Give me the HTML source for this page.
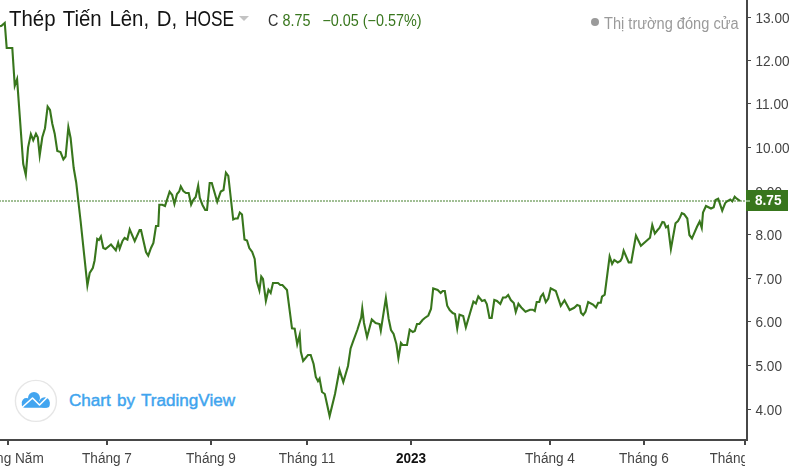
<!DOCTYPE html>
<html><head><meta charset="utf-8">
<style>
html,body{margin:0;padding:0;background:#fff;}
body{width:792px;height:467px;position:relative;overflow:hidden;font-family:"Liberation Sans",sans-serif;}
#chart{position:absolute;left:0;top:0;}
.title{position:absolute;left:9px;top:6px;font-size:20.4px;word-spacing:2px;transform-origin:0 0;transform:scaleY(1.1);color:#131313;white-space:nowrap;letter-spacing:0px;}
.tri{position:absolute;left:239px;top:16px;width:0;height:0;border-left:5px solid transparent;border-right:5px solid transparent;border-top:5px solid #c3c3c3;}
.ohlc{position:absolute;left:268px;top:11.5px;font-size:14.4px;transform-origin:0 0;transform:scaleY(1.1);white-space:nowrap;color:#38761d;}
.ohlc .c{color:#333;}
.mkt{position:absolute;left:604px;top:14.5px;font-size:14.6px;transform-origin:0 0;transform:scaleY(1.08);color:#9a9a9a;white-space:nowrap;}
.dot{position:absolute;left:591px;top:18px;width:8px;height:8px;border-radius:50%;background:#9a9a9a;}
.yaxis{position:absolute;left:746px;top:0;width:2px;height:441px;background:#474747;}
.xaxis{position:absolute;left:0;top:439px;width:748px;height:2px;background:#474747;}
.yl{position:absolute;left:755.5px;font-size:13.6px;transform-origin:0 50%;transform:scaleY(1.1);line-height:16px;color:#444;white-space:nowrap;}
.ytick{position:absolute;left:748px;width:3px;height:1px;background:#474747;}
.xl{position:absolute;top:449.5px;width:120px;text-align:center;font-size:13.6px;line-height:16px;color:#444;transform-origin:50% 0;transform:scaleY(1.1);white-space:nowrap;}
.xl.b{font-weight:bold;color:#111;}
.xtick{position:absolute;top:441px;width:1.5px;height:3.5px;background:#474747;}
.xlast{position:absolute;top:449.5px;left:709.5px;width:35.5px;overflow:hidden;font-size:13.6px;line-height:16px;color:#444;transform-origin:0 0;transform:scaleY(1.1);white-space:nowrap;}
.plabel{position:absolute;left:746px;top:190px;width:41.5px;height:21px;background:#38761d;}
.ptxt{position:absolute;left:755px;top:192px;width:28px;font-size:13.6px;font-weight:bold;line-height:18px;color:#fff;white-space:nowrap;transform-origin:0 50%;transform:scaleY(1.1);}
.ptick{position:absolute;left:746px;top:200px;width:4px;height:2px;background:#8dba7e;}
.tv{position:absolute;left:69px;top:390.7px;font-size:17.1px;word-spacing:1.5px;color:#40a4ee;-webkit-text-stroke:0.45px #40a4ee;white-space:nowrap;}
</style></head><body>
<svg id="chart" width="792" height="467" viewBox="0 0 792 467">
<defs><filter id="bl" x="-5%" y="-5%" width="110%" height="110%"><feGaussianBlur stdDeviation="0.35"/></filter></defs>
<line x1="0" y1="201" x2="746" y2="201" stroke="#38761d" stroke-opacity="0.47" stroke-width="2" stroke-dasharray="2 1" stroke-dashoffset="1"/>
<polyline points="0.00,26.30 1.50,25.80 4.75,22.89 6.70,48.00 12.30,48.00 14.76,85.74 17.08,79.08 23.20,163.80 25.79,174.93 28.10,147.40 30.87,134.21 33.23,140.19 35.95,133.76 37.80,137.30 39.69,155.43 42.30,137.30 45.00,128.20 47.63,106.59 50.00,110.00 52.30,123.70 54.70,133.70 57.30,151.00 60.50,152.00 63.38,159.38 65.60,156.50 68.36,127.13 70.60,138.00 73.70,168.00 76.20,182.50 80.60,221.00 87.39,285.44 89.70,273.00 92.80,268.00 94.60,260.50 97.23,238.78 98.92,239.99 100.88,236.43 103.30,248.00 105.50,249.00 111.00,244.50 115.84,250.32 118.18,242.64 119.68,248.61 122.50,241.00 124.60,238.00 127.40,239.60 129.71,229.38 134.72,241.11 139.60,230.00 141.00,230.00 146.00,252.00 148.23,255.69 151.00,248.00 153.40,243.00 156.00,226.00 158.30,226.00 159.30,204.70 162.30,204.70 165.00,206.00 169.60,191.66 172.20,195.00 174.42,204.05 177.00,194.00 179.20,191.50 180.80,186.48 183.30,191.00 186.00,193.00 188.70,193.00 191.13,204.58 193.20,200.00 195.70,197.00 198.17,185.66 199.80,198.00 202.50,205.00 205.20,210.00 207.00,210.00 209.70,183.00 211.80,183.00 217.23,201.71 220.80,191.50 223.50,190.00 225.92,172.71 228.30,176.00 233.20,219.50 235.20,218.50 237.70,218.50 239.81,212.49 242.00,214.50 244.50,239.50 247.00,240.50 249.30,248.00 252.20,252.00 254.70,259.00 256.70,281.00 259.39,290.34 261.26,276.60 263.00,279.00 265.88,300.81 268.46,289.72 270.67,292.88 273.00,283.00 278.00,283.00 280.30,285.00 282.40,285.00 287.00,290.00 292.00,328.40 294.70,328.80 297.24,344.20 299.72,334.85 300.80,351.50 303.15,360.92 308.00,355.00 310.70,355.00 313.60,364.00 315.80,377.00 317.96,381.12 319.56,378.60 322.00,392.00 324.80,394.00 329.62,416.09 335.00,394.00 339.48,369.94 343.31,382.10 348.00,366.00 350.60,348.40 353.00,341.70 357.30,330.00 361.20,317.60 362.26,308.51 364.00,323.00 367.05,337.14 371.80,319.50 375.60,323.00 379.50,324.00 380.80,330.61 385.87,298.17 388.60,318.50 391.00,330.00 393.60,334.00 396.30,343.60 398.40,358.11 400.92,342.98 402.60,345.00 407.00,345.00 409.70,329.70 412.80,332.00 414.80,331.00 417.00,324.00 419.40,324.00 422.50,320.00 424.80,318.00 428.30,315.50 431.00,309.00 433.20,288.50 437.70,290.00 440.70,293.00 442.70,291.00 444.80,291.00 447.20,305.70 449.70,310.00 452.70,313.00 455.00,314.00 457.22,328.55 459.50,314.70 463.20,316.00 465.85,327.30 473.43,301.53 475.87,303.46 478.32,296.36 482.00,301.00 484.70,300.00 486.80,304.00 489.50,318.00 491.70,318.00 494.30,300.00 497.00,301.00 500.30,304.00 503.00,297.50 505.70,297.50 508.20,295.00 510.80,300.00 513.80,303.00 515.76,312.00 518.43,303.74 521.30,307.50 525.50,311.70 530.00,309.70 532.70,309.70 534.80,311.00 536.70,302.00 539.30,302.00 540.80,296.70 543.08,293.74 545.82,302.17 548.30,298.50 550.70,288.30 555.80,291.00 560.78,305.92 564.49,300.28 569.70,310.00 574.20,307.80 577.20,305.00 579.80,306.00 581.00,312.70 583.20,315.00 585.50,311.70 588.20,302.00 593.00,304.50 596.00,307.50 598.20,302.70 600.80,302.70 602.00,296.70 604.70,294.70 609.63,256.44 612.11,263.95 614.30,260.00 617.70,262.40 620.40,261.00 622.00,258.00 623.64,250.64 628.70,262.40 631.20,262.40 635.96,235.54 640.90,245.80 650.00,237.80 652.28,225.02 654.85,233.54 657.60,230.00 659.50,228.00 662.40,222.00 664.10,222.40 666.00,227.40 668.00,226.00 670.89,249.03 675.50,223.20 678.00,221.00 680.00,217.40 681.80,213.20 684.10,214.20 687.30,218.50 689.40,235.00 691.95,238.43 697.00,226.80 699.67,221.48 701.75,227.95 703.00,212.60 706.00,206.00 711.00,208.50 713.70,207.30 715.50,200.00 718.20,198.70 722.22,210.67 725.20,203.00 727.50,201.00 730.20,199.50 732.30,201.40 734.70,196.80 736.80,198.70 740.20,201.00" filter="url(#bl)" fill="none" stroke="#38761d" stroke-width="2.1" stroke-linejoin="miter" stroke-miterlimit="10"/>
<circle cx="35.9" cy="400.9" r="20.5" fill="#fff" stroke="#e6e6e6" stroke-width="1.4"/>
<g fill="#42a5f0">
<circle cx="34" cy="398" r="6"/>
<circle cx="26.3" cy="402.6" r="4.5"/>
<circle cx="44.5" cy="402.5" r="5.2"/>
<rect x="21.8" y="401" width="27.9" height="6.8" rx="3"/>
</g>
<polyline points="22,407.5 32.5,398 39.5,405 48,396.5" fill="none" stroke="#fff" stroke-width="1.6" stroke-linejoin="round"/>
</svg>
<div class="title"><span id="w1">Thép</span> <span id="w2">Tiến</span> <span id="w3">Lên,</span> <span id="w4">D,</span> <span id="w5" style="display:inline-block;transform-origin:0 0;transform:scaleX(0.85)">HOSE</span></div>
<div class="tri"></div>
<div class="ohlc"><span class="c">C</span> 8.75 &nbsp; −0.05 (−0.57%)</div>
<div class="dot"></div>
<div class="mkt">Thị trường đóng cửa</div>
<div class="yaxis"></div>
<div class="xaxis"></div>
<div class="yl" style="top:10.5px">13.00</div>
<div class="ytick" style="top:16.5px"></div>
<div class="yl" style="top:53.5px">12.00</div>
<div class="ytick" style="top:59.5px"></div>
<div class="yl" style="top:97.0px">11.00</div>
<div class="ytick" style="top:103.0px"></div>
<div class="yl" style="top:140.5px">10.00</div>
<div class="ytick" style="top:146.5px"></div>
<div class="yl" style="top:184.5px">9.00</div>
<div class="ytick" style="top:190.5px"></div>
<div class="yl" style="top:228.0px">8.00</div>
<div class="ytick" style="top:234.0px"></div>
<div class="yl" style="top:271.5px">7.00</div>
<div class="ytick" style="top:277.5px"></div>
<div class="yl" style="top:315.0px">6.00</div>
<div class="ytick" style="top:321.0px"></div>
<div class="yl" style="top:358.5px">5.00</div>
<div class="ytick" style="top:364.5px"></div>
<div class="yl" style="top:402.5px">4.00</div>
<div class="ytick" style="top:408.5px"></div>
<div class="xl" style="left:-51.8px">Tháng Năm</div>
<div class="xtick" style="left:7.2px"></div>
<div class="xl" style="left:47.0px">Tháng 7</div>
<div class="xtick" style="left:106.0px"></div>
<div class="xl" style="left:151.0px">Tháng 9</div>
<div class="xtick" style="left:210.0px"></div>
<div class="xl" style="left:247.0px">Tháng 11</div>
<div class="xtick" style="left:306.0px"></div>
<div class="xl b" style="left:351.0px">2023</div>
<div class="xtick" style="left:410.0px"></div>
<div class="xl" style="left:490.0px">Tháng 4</div>
<div class="xtick" style="left:549.0px"></div>
<div class="xl" style="left:584.0px">Tháng 6</div>
<div class="xtick" style="left:643.0px"></div>
<div class="xtick" style="left:744px"></div>
<div class="xlast">Tháng 7</div>
<div class="plabel"></div><div class="ptick"></div><div class="ptxt">8.75</div>
<div class="tv">Chart by TradingView</div>
</body></html>
